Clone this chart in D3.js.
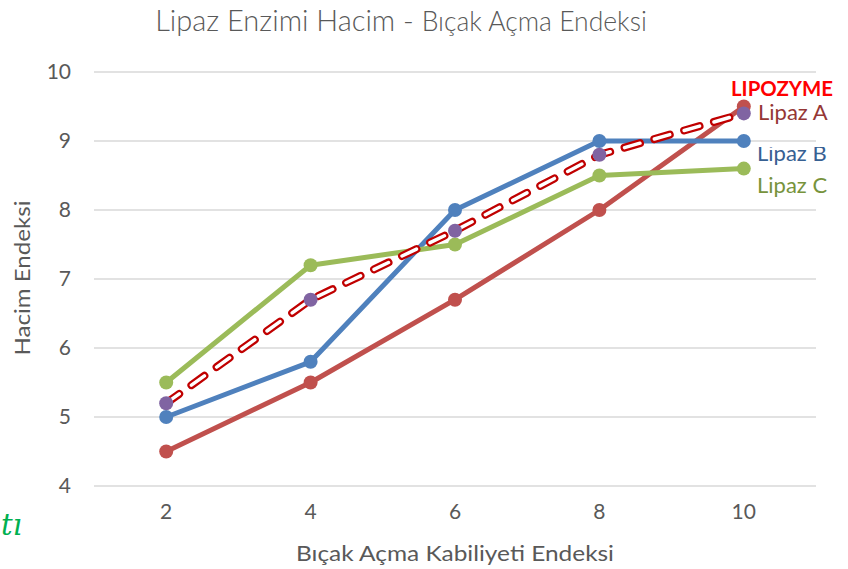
<!DOCTYPE html>
<html><head><meta charset="utf-8">
<script src="https://cdn.jsdelivr.net/npm/d3@7/dist/d3.min.js"></script>
<style>body{margin:0;background:#fff}svg{display:block}</style>
</head><body>
<svg id="c" width="848" height="569"></svg>
<script>
const categories = ["2","4","6","8","10"];
const yTicks = [4,5,6,7,8,9,10];
const lipazA = [4.5,5.5,6.7,8.0,9.5];
const lipazB = [5.0,5.8,8.0,9.0,9.0];
const lipazC = [5.5,7.2,7.5,8.5,8.6];
const lipozyme = [5.2,6.7,7.7,8.8,9.4];
const seriesNames = ["Lipaz A","Lipaz B","Lipaz C","LIPOZYME"];

const font = "Lato, 'Open Sans', sans-serif";
const svg = d3.select("#c");
const x = d3.scaleBand().domain(categories).range([94,816]);
const y = d3.scaleLinear().domain([4,10]).range([486,72]);
const cx = d => x(d) + x.bandwidth()/2;

// gridlines
svg.append("g").selectAll("line").data(yTicks).join("line")
  .attr("x1",94).attr("x2",816).attr("y1",d=>y(d)).attr("y2",d=>y(d))
  .attr("stroke","#d9d9d9").attr("stroke-width",1.5);

// y axis labels
const ya = svg.append("g").attr("transform","translate(71,0)")
  .call(d3.axisLeft(y).tickValues(yTicks).tickFormat(d3.format("d")).tickSize(0).tickPadding(0));
ya.select(".domain").remove();
ya.selectAll("text").attr("font-family",font).attr("font-size",21).attr("fill","#595959");

// x axis labels
const xa = svg.append("g").attr("transform","translate(0,504)")
  .call(d3.axisBottom(x).tickSize(0).tickPadding(0));
xa.select(".domain").remove();
xa.selectAll("text").attr("font-family",font).attr("font-size",21).attr("fill","#595959");

const line = d3.line().x((d,i)=>cx(categories[i])).y(d=>y(d));

function drawSolid(data,color){
  svg.append("path").datum(data).attr("d",line).attr("fill","none")
    .attr("stroke",color).attr("stroke-width",5).attr("stroke-linejoin","round");
  svg.append("g").selectAll("circle").data(data).join("circle")
    .attr("cx",(d,i)=>cx(categories[i])).attr("cy",d=>y(d)).attr("r",7).attr("fill",color);
}
drawSolid(lipazA,"#c0504d");
drawSolid(lipazB,"#4f81bd");
drawSolid(lipazC,"#9bbb59");

// LIPOZYME dashed outline line
svg.append("path").datum(lipozyme).attr("d",line).attr("fill","none")
  .attr("stroke","#c00000").attr("stroke-width",8).attr("stroke-dasharray","16 15")
  .attr("stroke-linecap","round");
svg.append("path").datum(lipozyme).attr("d",line).attr("fill","none")
  .attr("stroke","#ffffff").attr("stroke-width",3.5).attr("stroke-dasharray","16 15")
  .attr("stroke-linecap","round");
svg.append("g").selectAll("circle").data(lipozyme).join("circle")
  .attr("cx",(d,i)=>cx(categories[i])).attr("cy",d=>y(d)).attr("r",7).attr("fill","#8064a2");

// series labels
svg.append("text").attr("x",731).attr("y",96).attr("font-family",font).attr("font-weight","bold")
  .attr("font-size",21).attr("fill","#ff0000").attr("textLength",102).attr("lengthAdjust","spacingAndGlyphs").text(seriesNames[3]);
svg.append("text").attr("x",758).attr("y",120).attr("font-family",font)
  .attr("font-size",22).attr("fill","#953735").text(seriesNames[0]);
svg.append("defs").append("clipPath").attr("id","clipB").append("rect")
  .attr("x",740).attr("y",147).attr("width",108).attr("height",30);
svg.append("text").attr("x",757).attr("y",161).attr("font-family",font)
  .attr("font-size",22).attr("fill","#376092").attr("clip-path","url(#clipB)").text(seriesNames[1]);
svg.append("text").attr("x",757).attr("y",193).attr("font-family",font)
  .attr("font-size",22).attr("fill","#77933c").text(seriesNames[2]);

// title
const t = svg.append("text").attr("x",401).attr("y",31).attr("text-anchor","middle")
  .attr("font-family",font).attr("fill","#595959");
t.append("tspan").attr("font-size",29).attr("font-weight",300).text("Lipaz Enzimi Hacim - ");
t.append("tspan").attr("font-size",26.5).attr("font-weight",300).text("Bıçak Açma Endeksi");

// axis titles
svg.append("text").attr("x",455).attr("y",561).attr("text-anchor","middle")
  .attr("font-family",font).attr("font-size",22).attr("fill","#595959")
  .attr("textLength",318).attr("lengthAdjust","spacingAndGlyphs").text("Bıçak Açma Kabiliyeti Endeksi");
svg.append("text").attr("transform","translate(30,278) rotate(-90)").attr("text-anchor","middle")
  .attr("font-family",font).attr("font-size",22).attr("fill","#595959")
  .attr("textLength",155).attr("lengthAdjust","spacingAndGlyphs").text("Hacim Endeksi");

// stray fragment at bottom-left
svg.append("text").attr("x",1).attr("y",535)
  .attr("font-family","'DejaVu Serif', serif").attr("font-style","italic")
  .attr("font-size",29).attr("fill","#00b050").text("tı");
</script>
</body></html>
